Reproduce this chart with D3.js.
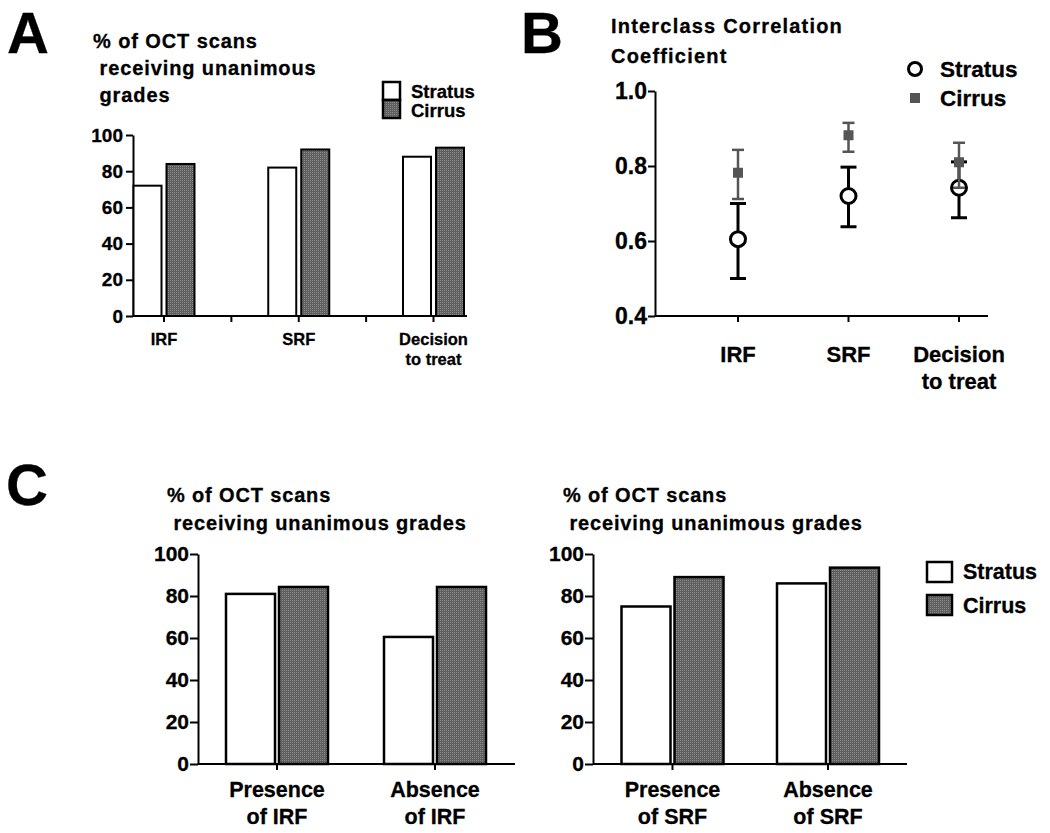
<!DOCTYPE html>
<html><head><meta charset="utf-8">
<script src="https://cdn.jsdelivr.net/npm/d3@7/dist/d3.min.js"></script>
<style>body{margin:0;background:#fff}svg{display:block}text{font-family:"Liberation Sans",Arial,sans-serif;font-weight:bold;fill:#000;stroke:#000;stroke-width:0.3px}</style>
</head><body><div id="chart"></div>
<script>
// ---------- DATA ----------
const seriesNames = ["Stratus", "Cirrus"];
const categoriesA = ["IRF", "SRF", "Decision|to treat"];
const stratusA = [72, 82, 88];
const cirrusA = [84, 92, 93];

const categoriesB = ["IRF", "SRF", "Decision|to treat"];
const stratusB = [0.605, 0.72, 0.742];
const stratusBLow = [0.50, 0.638, 0.662];
const stratusBHigh = [0.70, 0.797, 0.811];
const cirrusB = [0.782, 0.882, 0.81];
const cirrusBLow = [0.712, 0.838, 0.742];
const cirrusBHigh = [0.843, 0.915, 0.862];

const categoriesC1 = ["Presence|of IRF", "Absence|of IRF"];
const stratusC1 = [81, 60.5];
const cirrusC1 = [84.3, 84.3];
const categoriesC2 = ["Presence|of SRF", "Absence|of SRF"];
const stratusC2 = [75, 86];
const cirrusC2 = [89, 93.5];

const pctTicks = [0, 20, 40, 60, 80, 100];
const iccTicks = [0.4, 0.6, 0.8, 1.0];
const titlePct = ["% of OCT scans", " receiving unanimous", " grades"];
const titlePctC = ["% of OCT scans", " receiving unanimous grades"];
const titleB = ["Interclass Correlation", "Coefficient"];

// ---------- SETUP ----------
const W = 1050, H = 833;
const svg = d3.select("#chart").append("svg").attr("width", W).attr("height", H);
const defs = svg.append("defs");
const pat = defs.append("pattern").attr("id", "stipple").attr("patternUnits", "userSpaceOnUse")
  .attr("width", 2).attr("height", 2);
pat.append("rect").attr("width", 2).attr("height", 2).attr("fill", "#5f5f5f");
pat.append("rect").attr("width", 1).attr("height", 1).attr("fill", "#8a8a8a");

function panelLetter(t, x, y) {
  svg.append("text").attr("x", x).attr("y", y).style("font-size", "58px").text(t);
}
function multiText(g, lines, x, y, lh, size, anchor, ls) {
  const t = g.append("text").attr("x", x).attr("y", y).style("font-size", size + "px")
    .attr("text-anchor", anchor || "start").attr("letter-spacing", ls || 0).attr("xml:space", "preserve");
  lines.forEach((l, i) => t.append("tspan").attr("x", x).attr("dy", i ? lh : 0).text(l));
  return t;
}

function barPanel(cfg) {
  const g = svg.append("g");
  const y = d3.scaleLinear().domain([0, 100]).range([cfg.y0, cfg.y1]);
  const x = d3.scalePoint().domain(cfg.cats).range(cfg.centers);
  const ya = g.append("g").attr("transform", `translate(${cfg.ax0},0)`)
    .call(d3.axisLeft(y).tickValues(pctTicks).tickSize(cfg.tick).tickSizeOuter(0).tickPadding(cfg.pad));
  ya.select(".domain").attr("stroke", "#000").attr("stroke-width", 2);
  ya.selectAll(".tick line").attr("stroke", "#000").attr("stroke-width", 2);
  ya.selectAll(".tick text").style("font-size", cfg.tickFont + "px").style("font-family", null).attr("fill", "#000");
  const data = cfg.cats.map((c, i) => ({ c, s: cfg.s[i], v: cfg.v[i] }));
  data.forEach(d => {
    g.append("rect").attr("x", x(d.c) - cfg.gap / 2 - cfg.bw).attr("y", y(d.s))
      .attr("width", cfg.bw).attr("height", y(0) - y(d.s))
      .attr("fill", "#fff").attr("stroke", "#000").attr("stroke-width", cfg.sw);
    g.append("rect").attr("x", x(d.c) + cfg.gap / 2).attr("y", y(d.v))
      .attr("width", cfg.bw).attr("height", y(0) - y(d.v))
      .attr("fill", "url(#stipple)").attr("stroke", "#000").attr("stroke-width", cfg.sw);
  });
  g.append("line").attr("x1", cfg.ax0).attr("x2", cfg.ax1).attr("y1", y(0)).attr("y2", y(0))
    .attr("stroke", "#000").attr("stroke-width", 2);
  let tickXs = cfg.cats.map(c => x(c));
  if (cfg.separators) {
    for (let i = 0; i < cfg.cats.length - 1; i++) tickXs.push((x(cfg.cats[i]) + x(cfg.cats[i + 1])) / 2);
  }
  tickXs.forEach(tx => g.append("line").attr("x1", tx).attr("x2", tx).attr("y1", y(0)).attr("y2", y(0) + 6)
    .attr("stroke", "#000").attr("stroke-width", 2));
  cfg.cats.forEach(c => multiText(g, c.split("|"), x(c), cfg.catY, cfg.catLH, cfg.catFont, "middle"));
  return g;
}

function legendBoxes(g, x, ys, h, w, tx, tys, font) {
  seriesNames.forEach((n, i) => {
    g.append("rect").attr("x", x).attr("y", ys[i]).attr("width", w).attr("height", h)
      .attr("fill", i ? "url(#stipple)" : "#fff").attr("stroke", "#000").attr("stroke-width", 2.5);
    g.append("text").attr("x", tx).attr("y", tys[i]).style("font-size", font + "px").text(n);
  });
}

// ---------- PANEL A ----------
panelLetter("A", 7, 53);
const gA = barPanel({ cats: categoriesA, s: stratusA, v: cirrusA, y0: 316, y1: 135, centers: [164, 433.5],
  ax0: 133, ax1: 467, bw: 28, gap: 5, sw: 2, tick: 7, pad: 3, tickFont: 19, catY: 345, catLH: 20, catFont: 16.5, separators: true });
multiText(gA, titlePct, 93, 48, 27, 20, "start", 0.9);
legendBoxes(gA, 383, [82, 100], 18, 17, 411, [98, 117], 18.5);

// ---------- PANEL B ----------
panelLetter("B", 521, 53);
(function () {
  const g = svg.append("g");
  const y = d3.scaleLinear().domain([0.4, 1.0]).range([316, 91]);
  const x = d3.scalePoint().domain(categoriesB).range([738, 959]);
  const ya = g.append("g").attr("transform", "translate(655,0)")
    .call(d3.axisLeft(y).tickValues(iccTicks).tickFormat(d3.format(".1f")).tickSize(7).tickSizeOuter(0).tickPadding(1));
  ya.select(".domain").attr("stroke", "#000").attr("stroke-width", 2);
  ya.selectAll(".tick line").attr("stroke", "#000").attr("stroke-width", 2);
  ya.selectAll(".tick text").style("font-size", "23px").style("font-family", null).attr("fill", "#000");
  g.append("line").attr("x1", 655).attr("x2", 988).attr("y1", y(0.4)).attr("y2", y(0.4)).attr("stroke", "#000").attr("stroke-width", 2);
  categoriesB.forEach(c => g.append("line").attr("x1", x(c)).attr("x2", x(c)).attr("y1", y(0.4)).attr("y2", y(0.4) + 6)
    .attr("stroke", "#000").attr("stroke-width", 2));
  categoriesB.forEach(c => multiText(g, c.split("|"), x(c), 362, 27, 22, "middle"));

  const st = categoriesB.map((c, i) => ({ c, v: stratusB[i], lo: stratusBLow[i], hi: stratusBHigh[i] }));
  const ci = categoriesB.map((c, i) => ({ c, v: cirrusB[i], lo: cirrusBLow[i], hi: cirrusBHigh[i] }));
  function errBars(data, color, sw, cap) {
    data.forEach(d => {
      g.append("line").attr("x1", x(d.c)).attr("x2", x(d.c)).attr("y1", y(d.lo)).attr("y2", y(d.hi))
        .attr("stroke", color).attr("stroke-width", sw);
      [d.lo, d.hi].forEach(v => g.append("line").attr("x1", x(d.c) - cap / 2).attr("x2", x(d.c) + cap / 2)
        .attr("y1", y(v)).attr("y2", y(v)).attr("stroke", color).attr("stroke-width", sw));
    });
  }
  errBars(st, "#000", 3, 16);
  st.forEach(d => g.append("circle").attr("cx", x(d.c)).attr("cy", y(d.v)).attr("r", 7.5)
    .attr("fill", "#fff").attr("stroke", "#000").attr("stroke-width", 3));
  errBars(ci, "#555", 2.5, 12);
  ci.forEach(d => g.append("rect").attr("x", x(d.c) - 5).attr("y", y(d.v) - 5).attr("width", 10).attr("height", 10)
    .attr("fill", "#555"));
  multiText(g, titleB, 611, 33, 30, 20, "start", 1.2);
  g.append("circle").attr("cx", 915).attr("cy", 69).attr("r", 6.5).attr("fill", "#fff").attr("stroke", "#000").attr("stroke-width", 3);
  g.append("rect").attr("x", 910).attr("y", 93).attr("width", 10).attr("height", 10).attr("fill", "#555");
  g.append("text").attr("x", 940).attr("y", 77).style("font-size", "22.5px").text(seriesNames[0]);
  g.append("text").attr("x", 940).attr("y", 106).style("font-size", "22.5px").text(seriesNames[1]);
})();

// ---------- PANEL C ----------
panelLetter("C", 6, 505);
const gC1 = barPanel({ cats: categoriesC1, s: stratusC1, v: cirrusC1, y0: 764, y1: 554, centers: [277, 435],
  ax0: 198, ax1: 515, bw: 49, gap: 4, sw: 2.5, tick: 8, pad: 1, tickFont: 21, catY: 797, catLH: 27, catFont: 21.5 });
multiText(gC1, titlePctC, 167, 502, 28, 20, "start", 0.85);
const gC2 = barPanel({ cats: categoriesC2, s: stratusC2, v: cirrusC2, y0: 764, y1: 554, centers: [672.5, 828],
  ax0: 593, ax1: 907, bw: 49, gap: 4, sw: 2.5, tick: 8, pad: 1, tickFont: 21, catY: 797, catLH: 27, catFont: 21.5 });
multiText(gC2, titlePctC, 563, 502, 28, 20, "start", 0.85);
legendBoxes(gC2, 927, [562, 595], 20, 25, 963, [579, 613], 21.5);
</script></body></html>
